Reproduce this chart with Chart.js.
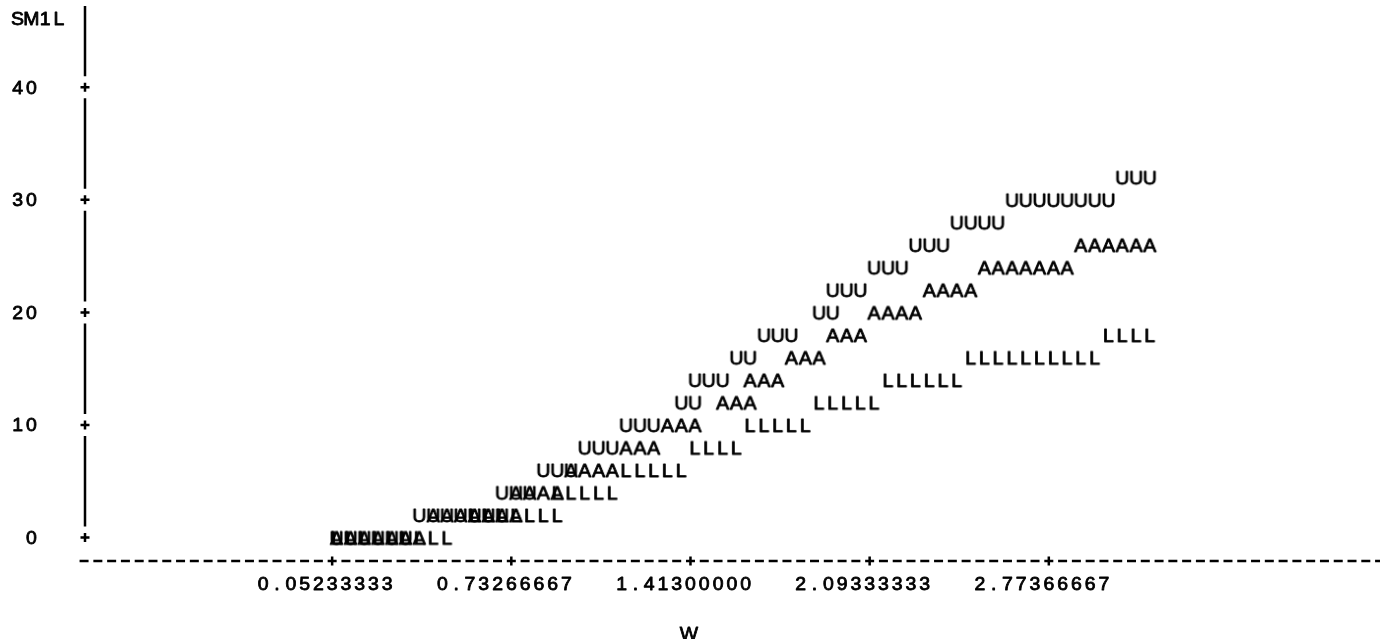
<!DOCTYPE html>
<html>
<head>
<meta charset="utf-8">
<title>SM1L vs W</title>
<script src="https://cdn.jsdelivr.net/npm/chart.js@4/dist/chart.umd.min.js"></script>
<style>
  html, body { margin: 0; padding: 0; background: #fff; }
  canvas { display: block; }
</style>
</head>
<body>
<canvas id="plot" width="1380" height="639"></canvas>
<script>
// Axis ticks and titles
const xTickValues = [0.05233333, 0.73266667, 1.41300000, 2.09333333, 2.77366667];
const xTickLabels = ['0.05233333', '0.73266667', '1.41300000', '2.09333333', '2.77366667'];
const yTickValues = [0, 10, 20, 30, 40];
const yTickLabels = ['0', '10', '20', '30', '40'];
const xTitle = 'W';
const yTitle = 'SM1L';

// Series U
const uW = [
  0.052, 0.105, 0.157, 0.209, 0.262, 0.314,
  0.366, 0.419, 0.471, 0.523, 0.576, 0.628, 0.680,
  0.680, 0.733, 0.785,
  0.837, 0.890, 0.942,
  0.994, 1.047, 1.099,
  1.151, 1.204, 1.256,
  1.361, 1.413,
  1.413, 1.465, 1.518,
  1.570, 1.622,
  1.675, 1.727, 1.779,
  1.884, 1.936,
  1.936, 1.989, 2.041,
  2.093, 2.146, 2.198,
  2.250, 2.303, 2.355,
  2.407, 2.460, 2.512, 2.564,
  2.617, 2.669, 2.721, 2.774, 2.826, 2.878, 2.931, 2.983,
  3.035, 3.088, 3.140
];
const uSM1L = [
  0, 0, 0, 0, 0, 0,
  2, 2, 2, 2, 2, 2, 2,
  4, 4, 4,
  6, 6, 6,
  8, 8, 8,
  10, 10, 10,
  12, 12,
  14, 14, 14,
  16, 16,
  18, 18, 18,
  20, 20,
  22, 22, 22,
  24, 24, 24,
  26, 26, 26,
  28, 28, 28, 28,
  30, 30, 30, 30, 30, 30, 30, 30,
  32, 32, 32
];

// Series A
const aW = [
  0.052, 0.105, 0.157, 0.209, 0.262, 0.314, 0.366,
  0.419, 0.471, 0.523, 0.576, 0.628, 0.680, 0.733,
  0.733, 0.785, 0.837, 0.890,
  0.942, 0.994, 1.047, 1.099,
  1.151, 1.204, 1.256,
  1.308, 1.361, 1.413,
  1.518, 1.570, 1.622,
  1.622, 1.675, 1.727,
  1.779, 1.832, 1.884,
  1.936, 1.989, 2.041,
  2.093, 2.146, 2.198, 2.250,
  2.303, 2.355, 2.407, 2.460,
  2.512, 2.564, 2.617, 2.669, 2.721, 2.774, 2.826,
  2.878, 2.931, 2.983, 3.035, 3.088, 3.140
];
const aSM1L = [
  0, 0, 0, 0, 0, 0, 0,
  2, 2, 2, 2, 2, 2, 2,
  4, 4, 4, 4,
  6, 6, 6, 6,
  8, 8, 8,
  10, 10, 10,
  12, 12, 12,
  14, 14, 14,
  16, 16, 16,
  18, 18, 18,
  20, 20, 20, 20,
  22, 22, 22, 22,
  24, 24, 24, 24, 24, 24, 24,
  26, 26, 26, 26, 26, 26
];

// Series L
const lW = [
  0.052, 0.105, 0.157, 0.209, 0.262, 0.314, 0.366, 0.419, 0.471,
  0.576, 0.628, 0.680, 0.733, 0.785, 0.837, 0.890,
  0.890, 0.942, 0.994, 1.047, 1.099,
  1.151, 1.204, 1.256, 1.308, 1.361,
  1.413, 1.465, 1.518, 1.570,
  1.622, 1.675, 1.727, 1.779, 1.832,
  1.884, 1.936, 1.989, 2.041, 2.093,
  2.146, 2.198, 2.250, 2.303, 2.355, 2.407,
  2.460, 2.512, 2.564, 2.617, 2.669, 2.721, 2.774, 2.826, 2.878, 2.931,
  2.983, 3.035, 3.088, 3.140
];
const lSM1L = [
  0, 0, 0, 0, 0, 0, 0, 0, 0,
  2, 2, 2, 2, 2, 2, 2,
  4, 4, 4, 4, 4,
  6, 6, 6, 6, 6,
  8, 8, 8, 8,
  10, 10, 10, 10, 10,
  12, 12, 12, 12, 12,
  14, 14, 14, 14, 14, 14,
  16, 16, 16, 16, 16, 16, 16, 16, 16, 16,
  18, 18, 18, 18
];

// Print layout: one character column is this many W units wide
const COLUMN_W = 0.05233333;
const INK = '#000';
const FONT = "18px 'Liberation Sans', Arial, Helvetica, sans-serif";
const INK_SPREAD = 0.8;    // extra stroke round each glyph for a printed weight
const CAP_H = 13;
const STRETCH = 1.08;      // printer glyphs are a little wider than the screen face
const MARK_SHIFT = 4.5;    // printed marks sit a little right of their column

function toPoints(xs, ys) {
  return xs.map((x, i) => ({ x: x, y: ys[i] }));
}

function wideChar(ctx, ch, cx, baseline) {
  ctx.save();
  ctx.translate(cx, baseline);
  ctx.scale(STRETCH, 1);
  ctx.lineWidth = INK_SPREAD;
  ctx.lineJoin = 'round';
  ctx.fillText(ch, 0, 0);
  ctx.strokeText(ch, 0, 0);
  ctx.restore();
}

// Each plotted observation is printed as its series letter
function letterImage(ch) {
  const c = document.createElement('canvas');
  c.width = 36; c.height = 22;
  const g = c.getContext('2d');
  g.fillStyle = INK;
  g.strokeStyle = INK;
  g.font = FONT;
  g.textAlign = 'center';
  g.textBaseline = 'alphabetic';
  wideChar(g, ch, 18 + MARK_SHIFT, 11 + CAP_H / 2);
  return c;
}

function drawGridText(ctx, str, firstCenter, y, pitch) {
  for (let i = 0; i < str.length; i++) {
    wideChar(ctx, str[i], firstCenter + i * pitch, y);
  }
}

function plus(ctx, x, y) {
  ctx.beginPath();
  ctx.moveTo(x - 4.5, y); ctx.lineTo(x + 4.5, y);
  ctx.moveTo(x, y - 4.5); ctx.lineTo(x, y + 4.5);
  ctx.stroke();
}

// Line-printer style axes: ruled vertical axis with "+" ticks, dashed horizontal axis
const printerAxes = {
  id: 'printerAxes',
  afterDraw(chart) {
    const { ctx, chartArea, scales } = chart;
    const xs = scales.x, ys = scales.y;
    const pitch = xs.getPixelForValue(COLUMN_W) - xs.getPixelForValue(0);
    const axisX = chartArea.left;
    const axisY = ys.getPixelForValue(-2) + 1;

    ctx.save();
    ctx.strokeStyle = INK;
    ctx.fillStyle = INK;
    ctx.lineWidth = 2.5;
    ctx.lineCap = 'butt';

    // vertical axis rule, broken around every tick
    const tickYs = yTickValues.map(v => ys.getPixelForValue(v)).sort((a, b) => a - b);
    let start = chartArea.top;
    ctx.beginPath();
    tickYs.forEach(ty => {
      const end = ty - 11;
      if (end > start) { ctx.moveTo(axisX, start); ctx.lineTo(axisX, end); }
      start = ty + 11;
    });
    ctx.stroke();
    tickYs.forEach(ty => plus(ctx, axisX, ty));

    // horizontal axis: a dash in every print column, "+" at ticks
    const tickXs = xTickValues.map(v => xs.getPixelForValue(v));
    let col = tickXs[0];
    while (col - pitch >= chartArea.left - 6) col -= pitch;
    ctx.beginPath();
    for (let x = col; x < chartArea.right + pitch; x += pitch) {
      if (tickXs.some(t => Math.abs(t - x) < pitch / 2)) continue;
      ctx.moveTo(x - 4.5, axisY); ctx.lineTo(x + 4.5, axisY);
    }
    ctx.stroke();
    tickXs.forEach(tx => plus(ctx, tx, axisY));

    // labels
    ctx.font = FONT;
    ctx.textAlign = 'center';
    ctx.textBaseline = 'alphabetic';
    const labelY = axisY + 22.5 + CAP_H / 2;
    xTickLabels.forEach((lab, i) => {
      const first = tickXs[i] - (lab.length / 2) * pitch;
      drawGridText(ctx, lab, first, labelY, pitch);
    });
    yTickLabels.forEach((lab, i) => {
      const ty = ys.getPixelForValue(yTickValues[i]);
      drawGridText(ctx, lab, 31.5 - (lab.length - 1) * pitch, ty + CAP_H / 2, pitch);
    });
    drawGridText(ctx, yTitle, 17.6, 18.5 + CAP_H / 2, pitch);
    drawGridText(ctx, xTitle, xs.getPixelForValue(xTickValues[2]) - 1.5, 633 + CAP_H / 2, pitch);
    ctx.restore();
  }
};

const marks = { U: letterImage('U'), A: letterImage('A'), L: letterImage('L') };

new Chart(document.getElementById('plot'), {
  type: 'scatter',
  data: {
    datasets: [
      { label: 'U', data: toPoints(uW, uSM1L), pointStyle: marks.U, pointRadius: 5 },
      { label: 'A', data: toPoints(aW, aSM1L), pointStyle: marks.A, pointRadius: 5 },
      { label: 'L', data: toPoints(lW, lSM1L), pointStyle: marks.L, pointRadius: 5 }
    ]
  },
  options: {
    responsive: false,
    animation: false,
    devicePixelRatio: 1,
    layout: { padding: { left: 85, right: 0, top: 5, bottom: 79 } },
    plugins: { legend: { display: false }, tooltip: { enabled: false } },
    scales: {
      x: { type: 'linear', display: false, min: -0.88615, max: 4.00848 },
      y: { type: 'linear', display: false, min: -2, max: 47.22 }
    },
    elements: { point: { hoverRadius: 5 } }
  },
  plugins: [printerAxes]
});
</script>
</body>
</html>
